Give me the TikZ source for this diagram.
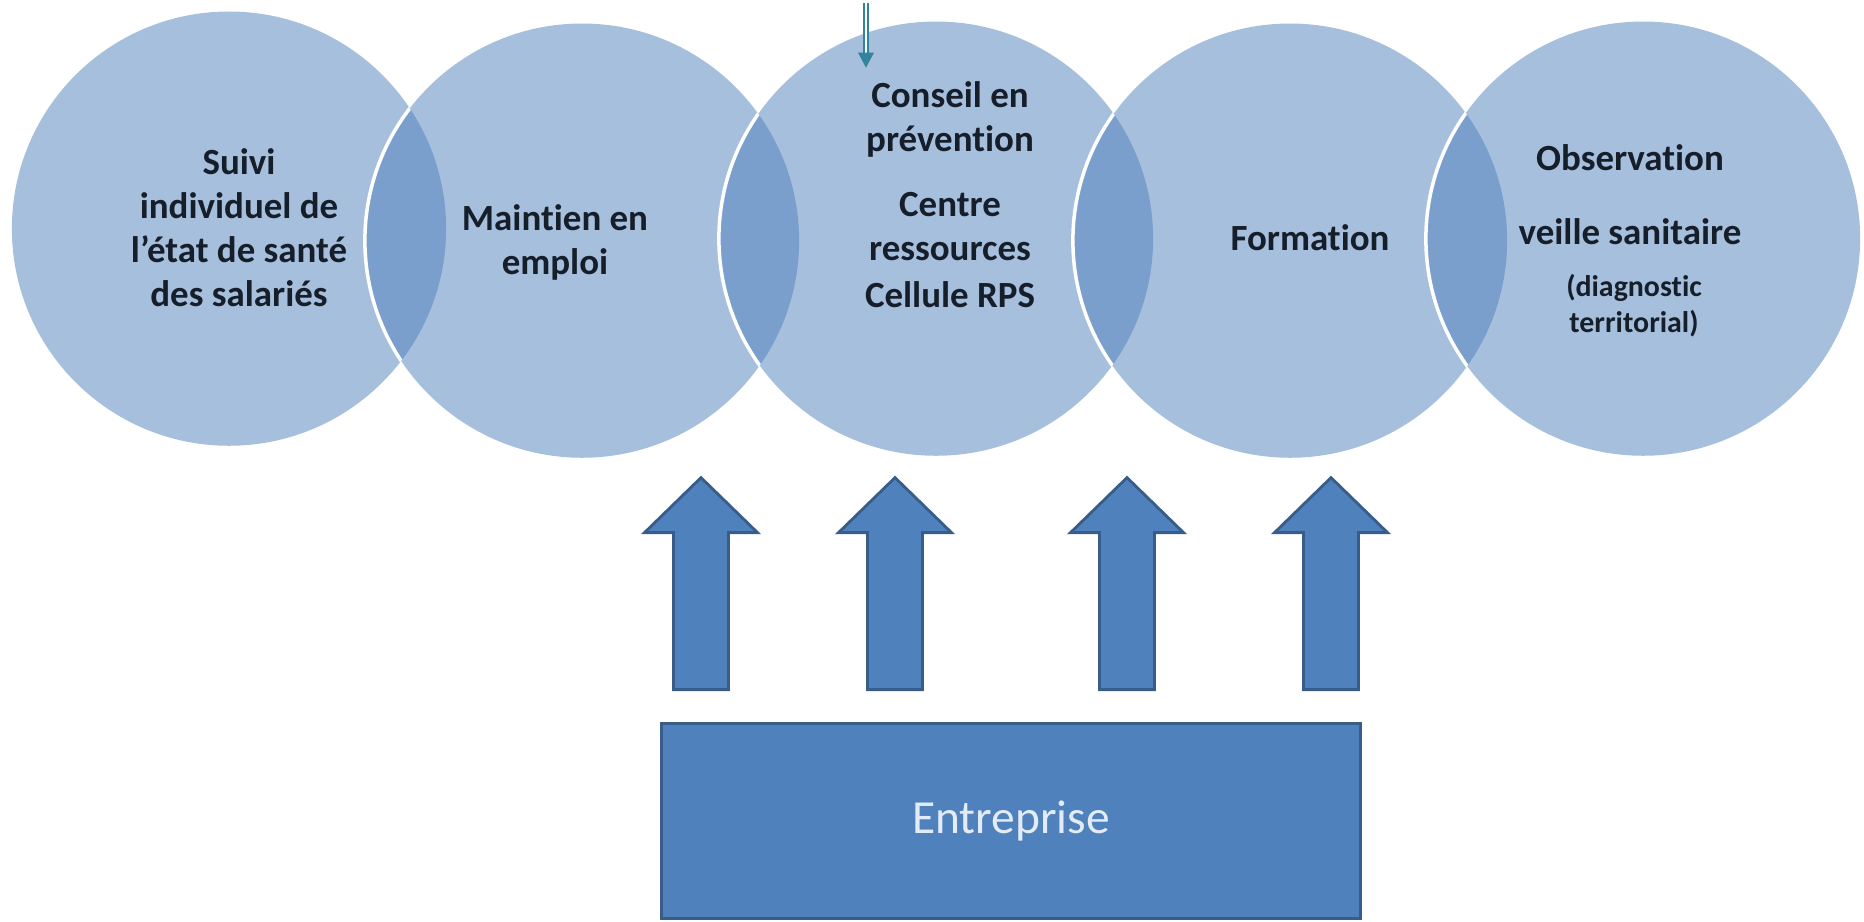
\documentclass[tikz,border=0pt]{standalone}
\usepackage{fontspec}
\setmainfont[Ligatures=NoCommon]{Carlito}
\usepackage{tikz}
\definecolor{bubblefill}{RGB}{79,129,189}
\definecolor{arrowline}{RGB}{56,93,138}
\definecolor{pointerteal}{RGB}{49,132,155}
\definecolor{labelink}{RGB}{22,30,42}
\definecolor{boxtext}{RGB}{226,235,246}
\tikzset{
 bubble/.style={circle,minimum size=4.34cm,inner sep=0pt,fill=bubblefill,fill opacity=0.5},
 rim/.style={draw=white,line width=1pt},
 bubbletext/.style={align=center,text=labelink,inner sep=0pt,font=\fontsize{10.5}{12.5}\selectfont\bfseries},
 blockarrow/.style={fill=bubblefill,draw=arrowline,line width=0.8pt,line join=miter},
 liftarrow/.pic={\draw[blockarrow] (-27.5,687) -- (-27.5,530) -- (-56.5,530) -- (0,475)
  -- (56.5,530) -- (27.5,530) -- (27.5,687) -- cycle;},
 pointer/.style={draw=pointerteal,line width=0.45pt,double=white,double distance=0.6pt}
}

\begin{document}
\begin{tikzpicture}[x=0.01cm,y=-0.01cm]
 \path[fill=white] (0,0) rectangle (1864,919);
 \node[bubble] (c1) at (229,226) {};
 \node[bubble] (c2) at (582,238) {};
 \node[bubble] (c3) at (936,236) {};
 \node[bubble] (c4) at (1290,238) {};
 \node[bubble] (c5) at (1643,236) {};
 \begin{scope}
  \clip (c1.center) circle[radius=2.17cm];
  \draw[rim] (c2.center) circle[radius=2.17cm];
 \end{scope}
 \begin{scope}
  \clip (c2.center) circle[radius=2.17cm];
  \draw[rim] (c3.center) circle[radius=2.17cm];
 \end{scope}
 \begin{scope}
  \clip (c3.center) circle[radius=2.17cm];
  \draw[rim] (c4.center) circle[radius=2.17cm];
 \end{scope}
 \begin{scope}
  \clip (c4.center) circle[radius=2.17cm];
  \draw[rim] (c5.center) circle[radius=2.17cm];
 \end{scope}

 \node[bubbletext] (suivi) at (239,225) {Suivi\\individuel de\\l’état de santé\\des salariés};
 \node[bubbletext] (maintien) at (555,240) {Maintien en\\emploi};
 \node[bubbletext] (conseil) at (950,192) {Conseil en\\prévention\\[6pt]Centre\\ressources\\[1pt]Cellule RPS};
 \node[bubbletext] (formation) at (1310,235) {Formation};
 \node[bubbletext] (observation) at (1630,192) {Observation\\[8.5pt]veille sanitaire};
 \node[bubbletext,font=\fontsize{8.5}{10.2}\selectfont\bfseries] (diagnostic) at (1634,303) {(diagnostic\\territorial)};

 \pic at (701,0) {liftarrow};
 \pic at (895,0) {liftarrow};
 \pic at (1127,0) {liftarrow};
 \pic at (1331,0) {liftarrow};

 \node[blockarrow,minimum width=6.98cm,minimum height=1.95cm,inner sep=0pt,
  text=boxtext,font=\fontsize{13.5}{16}\selectfont] (entreprise) at (1011,818.5) {Entreprise};

 \coordinate (feed) at (866,0);
 \coordinate (feedbase) at (866,50);
 \coordinate (feedtip) at (866,65);
 \draw[pointer] (feed) -- (feedbase);
 \fill[pointerteal] (feedtip) -- (858,50) -- (874,50) -- cycle;
\end{tikzpicture}
\end{document}
